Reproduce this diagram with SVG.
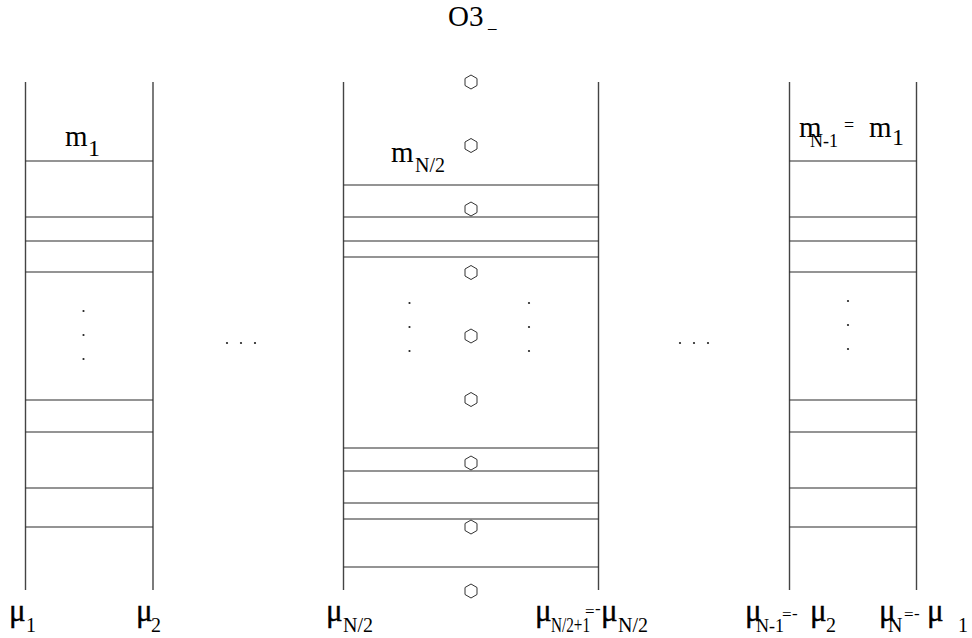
<svg xmlns="http://www.w3.org/2000/svg" width="972" height="638" viewBox="0 0 972 638">
<style>
  .ln { stroke: #2a2a2a; stroke-width: 1.2; fill: none; }
  .vl { stroke: #444; stroke-width: 1.4; fill: none; }
  .hex { stroke: #333; stroke-width: 1; fill: none; }
  .dot { fill: #222; }
  text { font-family: "Liberation Serif", "Times New Roman", serif; fill: #000; }
  .big { font-size: 29px; }
  .mu { font-size: 31px; stroke: #000; stroke-width: 0.35; }
  .sub { font-size: 20px; }
  .sub18 { font-size: 18px; }
  .op { font-size: 17px; }
</style>
<defs>
  <polygon id="hexagon" points="0,-7 6,-3.5 6,3.5 0,7 -6,3.5 -6,-3.5"/>
  <circle id="d" r="1.1"/>
</defs>

<g id="title">
  <text class="big" x="448" y="26">O3</text>
  <text class="op" x="488" y="28">_</text>
</g>

<g id="column-1">
  <line class="vl" x1="25.5" y1="82" x2="25.5" y2="590"/>
  <line class="vl" x1="153" y1="82" x2="153" y2="590"/>
  <g class="ln">
    <line x1="25.5" y1="161" x2="153" y2="161"/>
    <line x1="25.5" y1="217" x2="153" y2="217"/>
    <line x1="25.5" y1="241" x2="153" y2="241"/>
    <line x1="25.5" y1="272" x2="153" y2="272"/>
    <line x1="25.5" y1="400" x2="153" y2="400"/>
    <line x1="25.5" y1="432" x2="153" y2="432"/>
    <line x1="25.5" y1="488" x2="153" y2="488"/>
    <line x1="25.5" y1="527" x2="153" y2="527"/>
  </g>
  <g class="dot">
    <use href="#d" x="83.5" y="311"/>
    <use href="#d" x="83.5" y="335"/>
    <use href="#d" x="83.5" y="359"/>
  </g>
  <text class="big" x="65" y="146">m</text>
  <text class="sub" x="88" y="156" style="font-size:24px">1</text>
</g>

<g id="gap-dots-left" class="dot">
  <use href="#d" x="227" y="343"/>
  <use href="#d" x="241" y="343"/>
  <use href="#d" x="255" y="343"/>
</g>

<g id="column-mid">
  <line class="vl" x1="343.5" y1="82" x2="343.5" y2="590"/>
  <line class="vl" x1="598.5" y1="82" x2="598.5" y2="590"/>
  <g class="ln">
    <line x1="343.5" y1="185" x2="598.5" y2="185"/>
    <line x1="343.5" y1="217" x2="598.5" y2="217"/>
    <line x1="343.5" y1="241" x2="598.5" y2="241"/>
    <line x1="343.5" y1="257" x2="598.5" y2="257"/>
    <line x1="343.5" y1="448" x2="598.5" y2="448"/>
    <line x1="343.5" y1="471" x2="598.5" y2="471"/>
    <line x1="343.5" y1="503" x2="598.5" y2="503"/>
    <line x1="343.5" y1="519" x2="598.5" y2="519"/>
    <line x1="343.5" y1="567" x2="598.5" y2="567"/>
  </g>
  <g class="dot">
    <use href="#d" x="409.5" y="303"/>
    <use href="#d" x="409.5" y="327"/>
    <use href="#d" x="409.5" y="351"/>
    <use href="#d" x="529" y="303"/>
    <use href="#d" x="529" y="327"/>
    <use href="#d" x="529" y="351"/>
  </g>
  <text class="big" x="391" y="162">m</text>
  <text class="sub" x="415" y="172">N/2</text>
</g>

<g id="hexagons" class="hex">
  <use href="#hexagon" x="471" y="82"/>
  <use href="#hexagon" x="471" y="145.5"/>
  <use href="#hexagon" x="471" y="209"/>
  <use href="#hexagon" x="471" y="272.5"/>
  <use href="#hexagon" x="471" y="336"/>
  <use href="#hexagon" x="471" y="399.5"/>
  <use href="#hexagon" x="471" y="463"/>
  <use href="#hexagon" x="471" y="527"/>
  <use href="#hexagon" x="471" y="591"/>
</g>

<g id="gap-dots-right" class="dot">
  <use href="#d" x="680" y="343"/>
  <use href="#d" x="694" y="343"/>
  <use href="#d" x="708" y="343"/>
</g>

<g id="column-last">
  <line class="vl" x1="789.5" y1="82" x2="789.5" y2="590"/>
  <line class="vl" x1="916.5" y1="82" x2="916.5" y2="590"/>
  <g class="ln">
    <line x1="789.5" y1="161" x2="916.5" y2="161"/>
    <line x1="789.5" y1="217" x2="916.5" y2="217"/>
    <line x1="789.5" y1="241" x2="916.5" y2="241"/>
    <line x1="789.5" y1="272" x2="916.5" y2="272"/>
    <line x1="789.5" y1="400" x2="916.5" y2="400"/>
    <line x1="789.5" y1="432" x2="916.5" y2="432"/>
    <line x1="789.5" y1="488" x2="916.5" y2="488"/>
    <line x1="789.5" y1="527" x2="916.5" y2="527"/>
  </g>
  <g class="dot">
    <use href="#d" x="848" y="301"/>
    <use href="#d" x="848" y="325"/>
    <use href="#d" x="848" y="349"/>
  </g>
  <text class="big" x="799" y="137">m</text>
  <text class="sub18" x="810" y="147">N-1</text>
  <text class="sub18" x="844" y="131">=</text>
  <text class="big" x="869" y="137">m</text>
  <text class="sub" x="892" y="145" style="font-size:24px">1</text>
</g>

<g id="bottom-labels">
  <text class="mu" x="9" y="621">μ</text>
  <text class="sub" x="26" y="632">1</text>

  <text class="mu" x="136" y="621">μ</text>
  <text class="sub" x="151" y="632">2</text>

  <text class="mu" x="326" y="621">μ</text>
  <text class="sub" x="343" y="632">N/2</text>

  <text class="mu" x="535" y="621">μ</text>
  <text class="sub" x="551" y="632" textLength="39" lengthAdjust="spacingAndGlyphs">N/2+1</text>
  <text class="op" x="585" y="617">=</text>
  <text class="op" x="595" y="614">-</text>
  <text class="mu" x="601" y="621">μ</text>
  <text class="sub" x="618" y="632">N/2</text>

  <text class="mu" x="745" y="621">μ</text>
  <text class="sub18" x="756" y="632">N-1</text>
  <text class="op" x="782" y="620">=</text>
  <text class="op" x="792" y="619">-</text>
  <text class="mu" x="810" y="621">μ</text>
  <text class="sub" x="826" y="632">2</text>

  <text class="mu" x="879" y="621">μ</text>
  <text class="sub" x="888" y="632">N</text>
  <text class="op" x="904" y="620">=</text>
  <text class="op" x="914" y="619">-</text>
  <text class="mu" x="927" y="621">μ</text>
  <text class="sub" x="958" y="632">1</text>
</g>
</svg>
